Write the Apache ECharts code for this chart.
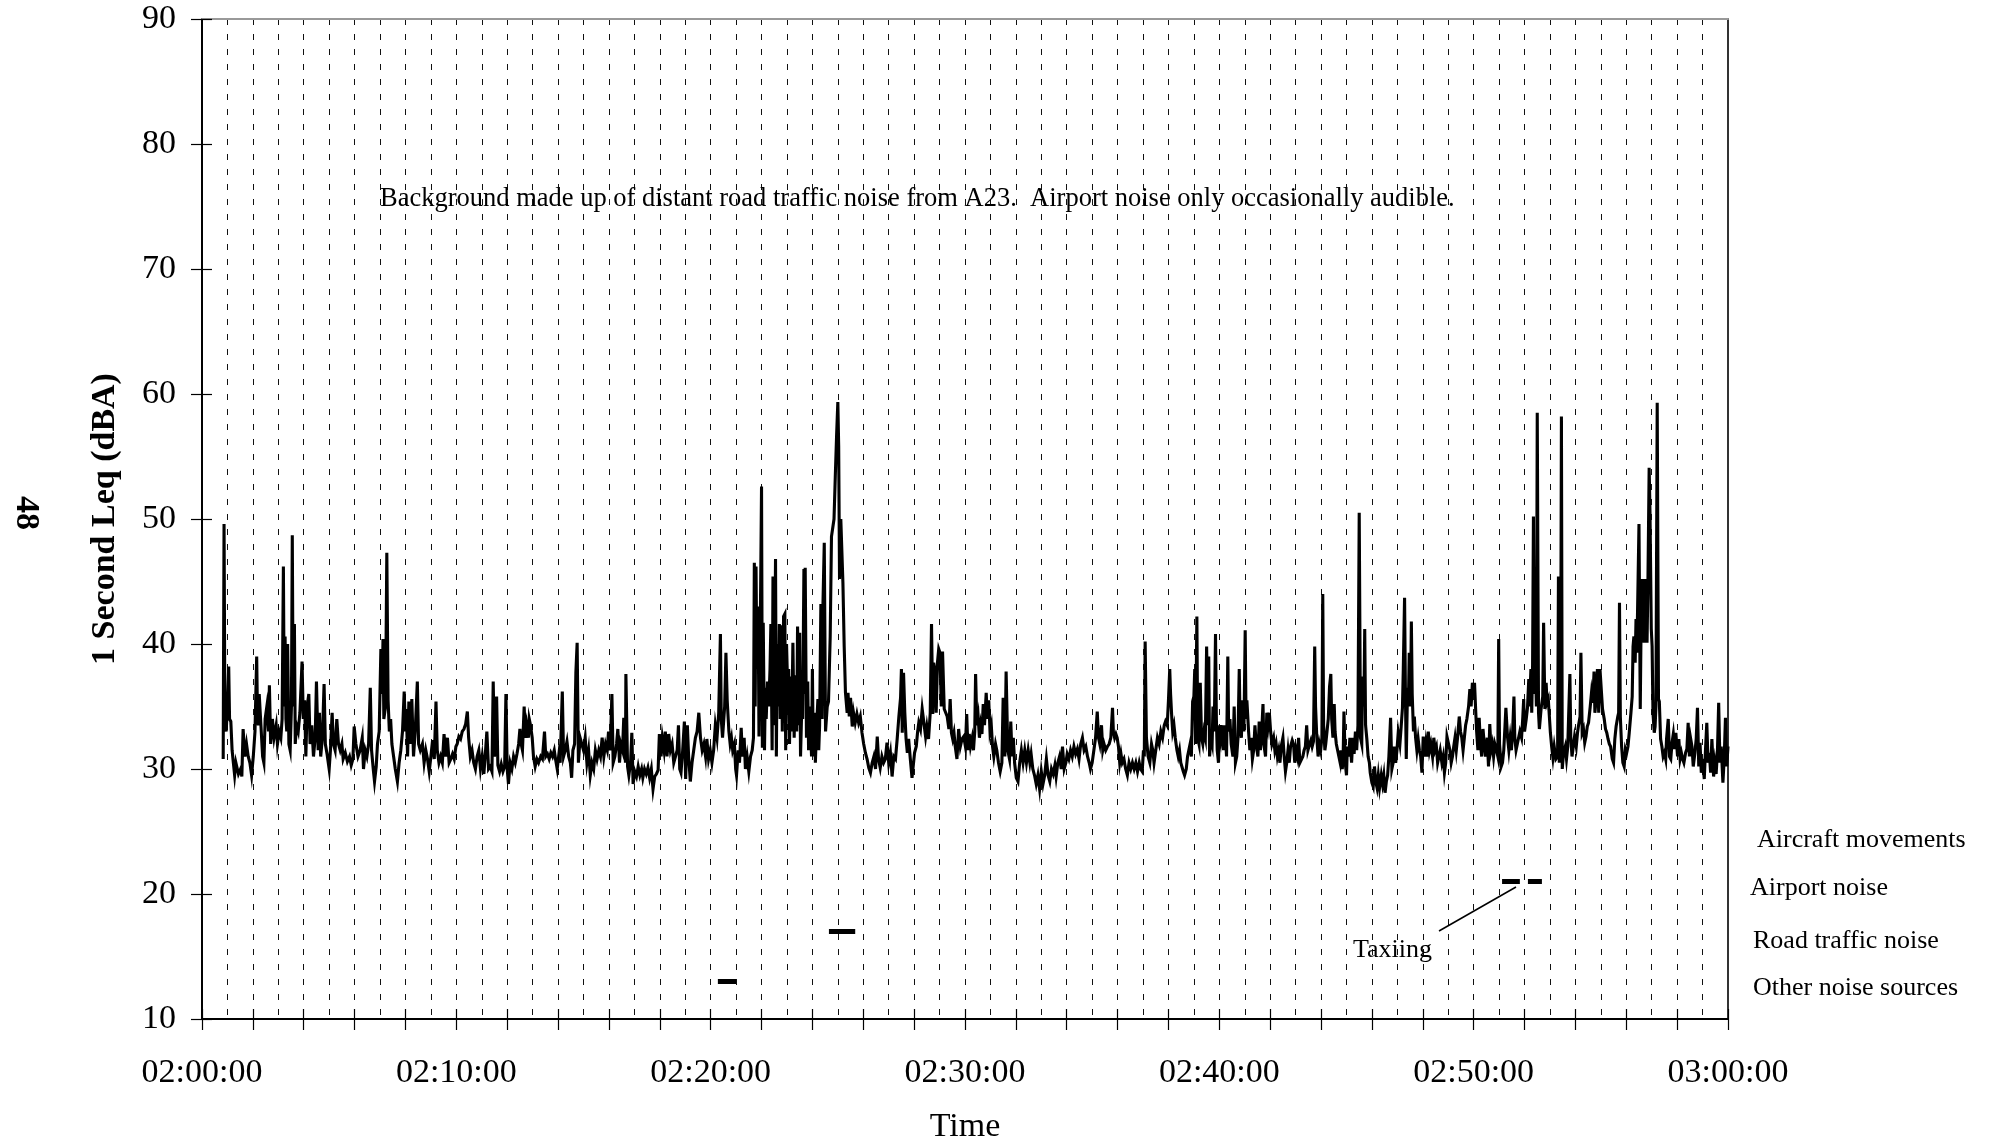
<!DOCTYPE html>
<html>
<head>
<meta charset="utf-8">
<script src="https://cdn.jsdelivr.net/npm/echarts@6/dist/echarts.min.js"></script>
<style>
html,body{margin:0;padding:0;background:#fff;}
#chart{width:1993px;height:1144px;}
</style>
</head>
<body>
<div id="chart"></div>
<script>
// ---- DATA (seconds after 02:00:00, 1 second Leq dBA) ----
const q1 = [[50,30.8],[52,49.6],[54,34],[57,33],[60,35],[63,38.2],[65,34],[68,33.8],[71,31.5],[74,30.5],[77,29.5],[80,30.5],[82,30.2],[86,29.6],[91,30],[94,29.4],[97,33.2],[101,31],[105,32],[109,31],[113,30.5],[117,29.5],[121,31],[125,33],[129,39],[131,34],[133,33.5],[135,36],[139,33.5],[143,31],[146,30.5],[149,34],[153,35],[157,33],[159,36.7],[162,32],[166,34],[170,32.5],[175,33.5],[178,32],[182,33],[186,32.5],[189,34],[192,46.2],[194,35],[196,40.6],[198,34],[200,33],[202,40],[205,32],[208,31.5],[211,35],[213,48.7],[215,35],[218,41.6],[220,32],[223,33.5],[227,33],[231,34.5],[236,38.6],[239,34],[242,35.5],[245,31],[248,35],[252,36],[255,32],[259,33.5],[263,31],[267,32.5],[270,37],[274,31.5],[277,34.5],[280,31],[284,32.5],[288,36.8],[291,32],[295,31.2],[300,30],[303,31.5],[307,34.5],[310,32],[314,31.5],[318,34],[322,32],[326,31.5],[330,32],[333,30.8],[338,31.3],[343,30.6],[348,31],[352,30.3],[356,30.8],[359,33.4],[363,32],[368,31],[373,31.5],[378,32.5],[381,30],[385,31.5],[389,31],[393,32],[397,36.5],[400,31.5],[404,30],[407,29],[411,30.2],[414,32],[418,33],[422,39.6],[425,36],[427,40.4],[429,34],[433,35],[436,47.3],[439,35.5],[442,33],[445,34],[448,32],[452,31],[456,30],[461,29],[465,30.5],[469,31.5],[473,33],[477,36.2],[480,33],[482,34.8],[485,31],[488,35.4],[492,32],[495,35.6],[499,31],[503,33],[508,37],[511,32],[515,31.5],[520,32],[524,30.5],[528,31.5],[532,30.8],[536,29.8],[540,31],[544,32.3],[548,30.8],[552,35.4],[555,31.5],[559,30.5],[563,31],[567,30.5],[571,32.8],[575,31],[579,32.5],[583,30.5],[587,30.8],[591,31.2],[595,30.8],[599,31.8],[602,32],[606,32.6],[610,32.4],[614,33],[618,33.2],[622,33.6],[626,34.6],[629,32.5],[633,31],[637,31.5],[641,30.5],[645,30],[649,31],[653,31.5],[657,30],[661,31],[665,29.6],[669,31.5],[672,33],[676,30],[680,30.2],[684,29.8],[687,37],[690,31],[694,32],[695,35.8],[698,30.3],[702,29.8],[706,30.4],[710,29.8],[714,30.2],[717,36],[720,30],[723,28.8],[727,30.5],[731,30],[735,31],[739,30.5],[743,31.2],[747,32],[750,33.2],[753,32],[756,31.5],[760,35],[763,32.5],[766,33.5],[770,32.5],[772,34],[775,33.5],[779,32.5],[782,31],[786,30.2],[790,30.8],[794,30.5],[799,31],[803,30.8],[808,33],[811,31],[815,31.2],[819,30.8],[823,31.3],[827,31],[831,31.5],[834,30.8],[838,30],[842,31.2],[845,30.5],[850,36.2],[853,31],[857,31.5],[861,32.2],[865,31],[869,30.5],[872,29.3],[875,31.5],[879,32],[882,37.7],[885,40.1],[888,30.5],[892,32.5],[896,32]];

const q2 = [[900,31.5],[904,32.5],[908,30.5],[912,31.5],[916,29.5],[920,30.5],[924,30],[928,31.5],[932,30.8],[936,31.5],[940,31],[944,32.5],[948,31],[952,32],[956,31.5],[959,33],[963,31.5],[967,36],[970,30.5],[974,31],[978,32],[981,33.2],[985,30.5],[988,32],[992,31.5],[995,34.1],[999,30.5],[1000,37.6],[1004,30.2],[1007,29.5],[1011,30.5],[1014,32.9],[1017,28.8],[1021,29.8],[1025,29.4],[1029,30.2],[1033,29.5],[1037,30],[1040,29.3],[1044,30],[1048,29.6],[1052,30.1],[1056,29.3],[1060,30],[1064,28.4],[1068,29.4],[1072,29.6],[1076,29.9],[1079,32.8],[1083,31],[1086,32.5],[1090,31.5],[1093,33],[1097,31],[1101,32.8],[1105,31.5],[1109,32],[1113,30.5],[1117,30.5],[1121,31.5],[1124,33.5],[1127,30],[1130,29.7],[1134,31.5],[1138,33.8],[1141,29.2],[1145,33.5],[1148,31],[1152,29],[1156,30.5],[1160,31.5],[1164,32.5],[1168,33],[1172,34.5],[1176,32.5],[1180,31.5],[1184,32],[1188,31],[1191,32.4],[1195,30.8],[1199,31.5],[1203,30.5],[1207,31.5],[1211,33.5],[1215,32.5],[1219,34.5],[1223,40.8],[1225,34],[1228,32.5],[1233,35],[1236,39.3],[1239,35.5],[1243,33],[1246,32],[1249,32.5],[1252,31.5],[1256,32],[1259,30],[1261,29.5],[1265,31.5],[1268,30.5],[1272,33.3],[1275,31],[1279,32.5],[1282,30],[1286,31],[1290,29.8],[1294,31],[1298,31.5],[1301,32.5],[1303,46.5],[1305,35],[1307,46.2],[1309,38],[1312,43],[1314,32.6],[1317,41],[1320,52.6],[1322,31.7],[1324,41.7],[1327,31.5],[1329,36.5],[1331,34],[1334,37],[1337,35],[1340,38],[1342,41.6],[1345,31.5],[1347,45.4],[1350,33.5],[1353,46.8],[1355,31],[1357,40],[1360,35],[1362,41.6],[1364,34],[1367,41.5],[1369,33],[1372,42.2],[1375,42.4],[1377,31.5],[1379,40],[1382,36],[1384,38],[1386,32],[1389,37.4],[1391,33],[1394,40.1],[1397,32.5],[1400,37.5],[1403,33],[1405,41.4],[1408,33.5],[1410,40.9],[1412,31],[1415,35],[1417,34],[1420,46],[1422,36],[1423,46.1],[1426,32.5],[1429,37],[1431,31.5],[1434,35],[1438,31],[1440,38],[1442,31],[1445,34.5],[1447,30.5],[1450,33.5],[1453,35.6],[1455,31.5],[1457,33.5],[1460,43.2],[1463,34],[1465,43.3],[1468,48.1],[1471,33],[1475,35],[1478,35.4],[1482,40.6],[1485,48.6],[1488,48.7],[1491,50],[1494,53.4],[1497,56.6],[1500,59.35],[1502,55.8],[1504,45.2],[1507,50],[1509,50.1],[1512,44.9],[1515,39.8],[1518,36.1],[1522,34.5],[1524,36.1],[1527,34.2],[1530,35.7],[1534,33.4],[1537,34.5],[1541,33.7],[1545,34.4],[1549,33.7],[1553,34.2],[1557,32.9],[1561,32],[1565,31.3],[1569,30.8],[1573,30.1],[1577,29.7],[1581,30.5],[1585,31],[1589,30],[1593,32.6],[1596,30.8],[1600,30.1],[1604,31],[1608,30.5],[1612,30.8],[1616,32.1],[1620,30.5],[1624,31.3],[1628,29.4],[1632,31],[1636,30.8],[1640,32.4],[1644,34.2],[1648,35.7],[1650,38],[1652,32.9],[1655,37.7],[1658,34.5],[1661,32.4],[1664,31.3],[1667,32.4],[1671,30.8],[1675,29.3],[1678,29.4],[1681,31.3],[1685,31.8],[1688,32.9],[1691,33.7],[1695,33.2],[1699,34.8],[1703,33.7],[1707,32.6],[1710,33.4],[1714,32.4],[1718,34.5],[1721,41.6],[1724,34.4],[1726,38.5],[1729,37.9],[1732,34.5],[1735,38.5],[1738,39.6],[1741,39.3],[1744,35],[1747,39.4],[1751,34.8],[1754,34.8],[1758,34.2],[1762,33.2],[1765,35.6],[1768,32.9],[1771,32.4],[1774,32.9],[1777,31.8],[1781,30.8],[1785,33.2],[1789,31.8],[1793,32.4],[1797,32.6]];

const q3 = [[1801,31.8],[1804,34.4],[1807,31.5],[1810,32.8],[1813,31.8],[1817,32.5],[1820,31.5],[1823,33],[1825,37.6],[1828,33.5],[1831,34.2],[1834,32.5],[1837,33.5],[1840,32.8],[1843,35.2],[1846,33.5],[1850,36.1],[1853,34],[1856,35.5],[1859,33],[1862,33.5],[1865,31.8],[1868,31],[1872,32],[1875,31.5],[1879,30.5],[1883,29.8],[1887,30.5],[1890,35.7],[1894,31],[1897,37.8],[1901,31.5],[1905,30.8],[1908,33.8],[1911,31],[1914,32.5],[1917,30.5],[1921,29.3],[1925,29],[1929,30.5],[1933,31.5],[1937,30.5],[1941,31.5],[1945,30.5],[1949,31.5],[1953,30.5],[1956,31.2],[1960,30],[1964,29.5],[1968,28.8],[1972,29.5],[1976,28.4],[1980,29.8],[1984,28.8],[1988,29.5],[1992,30.8],[1996,29.5],[2000,29],[2004,30],[2008,29.6],[2012,30.3],[2015,29.4],[2019,30.5],[2023,31],[2027,30],[2030,31.8],[2034,30],[2038,30.5],[2041,31.2],[2045,30.8],[2049,31.5],[2053,31],[2057,31.8],[2061,31.2],[2065,31.6],[2069,30.8],[2073,32],[2077,32.5],[2081,31.5],[2085,31.8],[2089,31],[2093,30.5],[2096,30],[2100,30.5],[2104,31.5],[2108,32.5],[2112,34.6],[2115,32.5],[2118,32],[2122,33.5],[2125,31.5],[2128,32],[2132,31.5],[2136,31.8],[2140,32],[2144,32.5],[2148,34.9],[2150,33],[2153,32.5],[2156,32.8],[2159,32.5],[2162,31.8],[2165,30.5],[2168,31.2],[2171,30.5],[2175,30.8],[2179,30],[2183,29.5],[2187,30.5],[2191,30],[2195,30.5],[2199,30],[2203,30.5],[2207,29.8],[2211,30.5],[2214,30],[2218,29.8],[2221,31.5],[2223,31],[2225,40.2],[2228,32.5],[2232,31],[2236,30.5],[2240,32],[2243,31.5],[2246,30.5],[2250,31.5],[2254,32.5],[2258,32],[2262,33],[2266,32.5],[2270,33.5],[2273,33.8],[2277,33.5],[2280,35.5],[2283,38],[2285,36],[2288,34],[2290,33],[2293,33.5],[2296,32.5],[2300,31.5],[2303,31],[2306,31.5],[2309,30.5],[2312,30.5],[2315,29.8],[2318,29.5],[2322,30],[2325,31],[2328,31.5],[2331,32],[2334,31],[2337,35.4],[2340,35.8],[2342,38],[2344,32],[2347,42.2],[2349,32.5],[2352,32],[2355,36.9],[2358,32.5],[2361,32],[2364,33],[2367,32.5],[2370,39.8],[2373,33.5],[2375,39],[2377,31],[2380,32.5],[2383,32],[2385,35],[2388,33],[2391,40.8],[2393,34],[2395,31.5],[2398,30.5],[2401,33.5],[2404,32.5],[2407,33.5],[2410,31.5],[2413,33.5],[2417,31],[2420,39],[2422,33],[2425,34],[2428,32],[2432,31],[2435,35],[2438,30.5],[2441,31],[2444,32.5],[2447,38],[2449,33.5],[2452,32.5],[2455,35.5],[2458,33],[2461,41.1],[2463,34],[2465,35.5],[2469,33],[2472,31.5],[2475,32.5],[2478,30.8],[2481,31.5],[2484,33.5],[2487,32],[2491,31],[2494,33.8],[2497,31.5],[2500,33],[2503,35.2],[2505,32],[2509,31],[2512,34.5],[2515,33.5],[2518,34.5],[2521,33],[2524,32],[2528,32.5],[2531,31.5],[2534,32],[2537,31],[2540,31.5],[2543,30.5],[2546,31.8],[2550,32.5],[2553,31],[2556,29.8],[2559,30.5],[2562,31.5],[2565,30.5],[2568,31.8],[2572,32.3],[2575,32],[2578,30.5],[2581,31.5],[2584,31],[2587,32.5],[2590,30.5],[2594,30.5],[2597,31],[2600,31.5],[2603,31.8],[2606,33.5],[2609,31.5],[2613,32],[2616,32.3],[2619,31.8],[2622,32.2],[2625,39.8],[2627,35],[2630,32.5],[2633,31],[2636,32],[2639,31.5],[2642,32.5],[2644,44],[2646,33.5],[2649,31.5],[2651,32],[2654,33],[2657,34],[2660,36.6],[2663,37.6],[2665,34],[2668,32.5],[2671,35.2],[2673,33],[2676,32],[2679,31.5],[2682,31],[2685,30.5],[2687,31.5],[2690,30],[2692,30.8],[2694,34.6],[2697,30.5]];

const q4 = [[2700,29.5],[2702,31.8],[2705,31],[2708,32.5],[2712,30.5],[2715,32.5],[2718,31.2],[2721,33],[2724,31.5],[2727,33.5],[2730,50.5],[2733,32.5],[2736,32],[2738,37.4],[2741,35],[2743,41.2],[2745,33.5],[2748,32.4],[2751,31],[2754,30.5],[2756,29.7],[2760,28.9],[2763,28.6],[2766,30.2],[2769,29],[2772,28.5],[2775,29.5],[2778,28.5],[2782,29.5],[2785,28.8],[2788,29.5],[2791,28.1],[2794,29],[2797,29.5],[2800,31],[2804,34.1],[2807,30],[2810,30.5],[2813,31.8],[2816,30.5],[2819,31.5],[2822,32.9],[2826,32],[2829,33.4],[2832,34.9],[2834,38],[2837,43.7],[2839,36],[2841,30.8],[2844,36.5],[2846,35],[2848,39.3],[2851,35],[2853,41.8],[2855,36],[2858,33],[2860,34.2],[2863,32.5],[2866,31.5],[2869,32.4],[2872,31.5],[2875,31],[2878,29.7],[2881,32.6],[2884,31],[2887,32],[2890,31],[2893,33],[2896,31.5],[2899,32],[2903,31],[2906,32.5],[2909,31.5],[2912,31.8],[2915,30.5],[2918,31],[2921,31.5],[2925,30.5],[2928,31],[2931,29.7],[2934,30.5],[2937,32.6],[2940,32.5],[2944,31.5],[2947,30.5],[2950,31],[2953,31.8],[2956,32.5],[2959,31.5],[2962,32.5],[2966,34.2],[2969,33],[2972,32.5],[2975,31.5],[2978,32.5],[2981,33.5],[2984,34],[2988,35],[2991,36.4],[2994,35],[2997,36.9],[3000,35.9],[3002,36.9],[3005,34.5],[3007,33],[3010,31.5],[3013,34.1],[3016,32],[3019,31],[3022,33.2],[3025,32],[3028,31],[3032,32.5],[3035,30.2],[3038,33.6],[3041,31.5],[3044,32],[3047,31],[3050,32],[3054,31.5],[3057,31],[3059,40.4],[3061,32],[3065,30.2],[3068,30.5],[3071,31.5],[3074,33.5],[3076,34.9],[3080,32.5],[3083,31.5],[3086,32.5],[3089,31.5],[3092,33],[3095,35.8],[3097,32.5],[3100,31.5],[3103,32],[3106,32.5],[3109,33],[3113,32.5],[3116,34.2],[3118,35.6],[3120,33],[3124,34],[3127,34.9],[3130,37.2],[3132,35],[3135,38],[3137,34.5],[3139,38.2],[3141,50.2],[3143,36],[3146,38],[3148,35],[3150,58.5],[3153,34.5],[3155,33.2],[3159,34.8],[3163,35.8],[3165,41.7],[3168,34.8],[3171,36.9],[3173,35.3],[3176,35.6],[3179,35.6],[3181,32.9],[3184,31.8],[3187,30.9],[3190,31.8],[3194,30.8],[3198,31],[3200,45.4],[3202,30.5],[3205,32.9],[3207,58.2],[3209,30],[3212,31.3],[3216,31.8],[3219,30.8],[3222,31.8],[3224,34.2],[3227,37.6],[3229,32.6],[3232,31],[3235,31.8],[3238,32.6],[3242,31.8],[3245,32.9],[3247,33.4],[3251,34.2],[3253,39.3],[3256,32.9],[3259,33.2],[3262,32.1],[3265,32.6],[3268,33.4],[3271,33.7],[3275,35],[3278,36.1],[3281,35.3],[3284,37.8],[3286,34.5],[3289,35.6],[3292,38],[3295,34.5],[3298,38],[3301,38.1],[3304,34.8],[3308,34],[3311,33.2],[3314,32.9],[3317,32.4],[3320,32],[3323,31.8],[3327,30.8],[3330,30.5],[3333,32.4],[3336,33.4],[3340,34.2],[3342,34.5],[3344,43.3],[3346,34.2],[3349,31.8],[3352,30.5],[3355,30.2],[3358,31.6],[3361,31.3],[3364,31.8],[3367,32.9],[3371,34.5],[3374,35.8],[3376,39.8],[3378,40.6],[3381,38.5],[3383,42],[3385,39.3],[3388,45.4],[3390,49.6],[3393,34.8],[3395,41.7],[3397,45.2],[3400,45.3],[3402,40.1],[3404,45.2],[3407,44.6],[3409,40.1],[3411,44.6],[3414,54.1],[3416,50.5],[3419,41.2],[3421,39.8],[3423,34.5],[3426,32.9],[3428,33.4],[3430,35],[3433,59.3],[3436,35.6],[3438,35.4],[3441,32.4],[3444,31.8],[3447,31],[3450,31.3],[3453,30.8],[3455,32.4],[3459,34],[3462,31],[3465,30.8],[3468,32.1],[3471,32.8],[3474,31.6],[3477,32.9],[3481,31],[3484,32.4],[3487,30.8],[3490,31.3],[3493,30.8],[3496,30.5],[3500,31.3],[3503,31.6],[3506,33.7],[3509,31],[3512,32.4],[3515,31.8],[3518,30.2],[3522,31.3],[3525,32.4],[3528,34.9],[3531,30.2],[3534,32.1],[3537,29.7],[3540,30.8],[3544,29.2],[3547,31.6],[3550,33.7],[3553,30.5],[3556,31.3],[3559,29.7],[3562,32.4],[3566,29.4],[3569,30.5],[3572,29.6],[3575,31.3],[3578,35.3],[3581,30.5],[3584,31.8],[3588,28.9],[3591,30.8],[3594,34.1],[3597,30.2],[3600,31.8]];

// event bars: [start sec, end sec] at the level of each source row
const sourceRows = ['Aircraft movements','Airport noise','Road traffic noise','Other noise sources'];
const sourceLevels = [25, 21, 17, 13];
const aircraftEvents = [];
const airportEvents = [[3067,3109],[3128,3161]];
const roadEvents = [[1479,1541]];
const otherEvents = [[1217,1260]];

const timeLabels = ['02:00:00','02:10:00','02:20:00','02:30:00','02:40:00','02:50:00','03:00:00'];
const yTicks = [10,20,30,40,50,60,70,80,90];
const noteText = 'Background made up of distant road traffic noise from A23.  Airport noise only occasionally audible.';
const taxiText = 'Taxiing';

// ---- CHART ----
const FONT = '"Liberation Serif", "Times New Roman", serif';
const chart = echarts.init(document.getElementById('chart'), null, {renderer:'canvas'});
const G = {left:202, right:265, top:19, bottom:125, containLabel:false, outerBoundsMode:'none'};
const dash = {color:'#111', width:1, type:[6,9]};

const eventSeries = [];
[aircraftEvents, airportEvents, roadEvents, otherEvents].forEach((evs, i) => {
  evs.forEach(ev => {
    eventSeries.push({
      type:'line', xAxisIndex:0, yAxisIndex:0, silent:true,
      data:[[ev[0], sourceLevels[i]], [ev[1], sourceLevels[i]]],
      showSymbol:false, symbol:'none',
      lineStyle:{color:'#000', width:5, cap:'butt'}, z:4
    });
  });
});

const option = {
  animation:false,
  backgroundColor:'#fff',
  textStyle:{fontFamily:FONT},
  grid:[ Object.assign({}, G), Object.assign({}, G) ],
  xAxis:[
    {
      gridIndex:0, type:'value', min:0, max:3600, interval:120, position:'bottom',
      axisLine:{show:true, onZero:false, lineStyle:{color:'#000', width:2}},
      axisTick:{show:true, inside:false, length:11, lineStyle:{color:'#000', width:1.2}},
      axisLabel:{show:true, margin:37, color:'#000', fontSize:34, fontFamily:FONT,
        formatter:(v)=> (v % 600 === 0 ? timeLabels[v/600] : '')},
      splitLine:{show:true, showMinLine:false, showMaxLine:false, lineStyle:dash},
      minorTick:{show:false, splitNumber:2},
      minorSplitLine:{show:true, lineStyle:dash},
      name:'Time', nameLocation:'middle', nameGap:91,
      nameTextStyle:{color:'#000', fontSize:34, fontFamily:FONT}
    },
    {
      gridIndex:1, type:'value', min:0, max:3600, interval:120, position:'bottom',
      axisLine:{show:false},
      axisTick:{show:true, inside:true, length:10, lineStyle:{color:'#000', width:1.2}},
      axisLabel:{show:false}, splitLine:{show:false}
    },
    {
      gridIndex:1, type:'value', min:0, max:3600, position:'top',
      axisLine:{show:true, onZero:false, lineStyle:{color:'#999', width:2}},
      axisTick:{show:false}, axisLabel:{show:false}, splitLine:{show:false}
    }
  ],
  yAxis:[
    {
      gridIndex:0, type:'value', min:yTicks[0], max:yTicks[yTicks.length-1], interval:10, position:'left',
      axisLine:{show:true, onZero:false, lineStyle:{color:'#000', width:2}},
      axisTick:{show:true, inside:false, length:11, lineStyle:{color:'#000', width:1.2}},
      axisLabel:{show:true, margin:26, color:'#000', fontSize:34, fontFamily:FONT},
      splitLine:{show:false},
      name:'1 Second Leq (dBA)', nameLocation:'middle', nameGap:80, nameRotate:90,
      nameTextStyle:{color:'#000', fontSize:34, fontWeight:'bold', fontFamily:FONT}
    },
    {
      gridIndex:1, type:'value', min:10, max:90, interval:10, position:'left',
      axisLine:{show:false},
      axisTick:{show:true, inside:true, length:10, lineStyle:{color:'#000', width:1.2}},
      axisLabel:{show:false}, splitLine:{show:false}
    },
    {
      gridIndex:1, type:'value', min:10, max:90, position:'right',
      axisLine:{show:true, onZero:false, lineStyle:{color:'#333', width:2}},
      axisTick:{show:false}, axisLabel:{show:false}, splitLine:{show:false}
    }
  ],
  series:[
    {
      type:'line', xAxisIndex:0, yAxisIndex:0, silent:true,
      data:[].concat(q1, q2, q3, q4),
      showSymbol:false, symbol:'none',
      lineStyle:{color:'#000', width:3.1, join:'miter'},
      z:5
    }
  ].concat(eventSeries),
  graphic:[
    {type:'text', x:380, y:199, z:10, silent:true,
      style:{text:noteText, font:'26.5px ' + FONT, fill:'#000', textAlign:'left', textVerticalAlign:'middle'}},
    {type:'text', x:1353, y:950, z:10, silent:true,
      style:{text:taxiText, font:'26px ' + FONT, fill:'#000', textAlign:'left', textVerticalAlign:'middle'}},
    {type:'line', z:10, silent:true,
      shape:{x1:1439, y1:931, x2:1516, y2:887}, style:{stroke:'#000', lineWidth:1.5}},
    {type:'text', x:1757, y:840, z:10, silent:true,
      style:{text:sourceRows[0], font:'26px ' + FONT, fill:'#000', textAlign:'left', textVerticalAlign:'middle'}},
    {type:'text', x:1750, y:888, z:10, silent:true,
      style:{text:sourceRows[1], font:'26px ' + FONT, fill:'#000', textAlign:'left', textVerticalAlign:'middle'}},
    {type:'text', x:1753, y:941, z:10, silent:true,
      style:{text:sourceRows[2], font:'26px ' + FONT, fill:'#000', textAlign:'left', textVerticalAlign:'middle'}},
    {type:'text', x:1753, y:988, z:10, silent:true,
      style:{text:sourceRows[3], font:'26px ' + FONT, fill:'#000', textAlign:'left', textVerticalAlign:'middle'}},
    {type:'text', x:26, y:513, rotation:-Math.PI/2, z:10, silent:true,
      style:{text:'48', font:'bold 34px ' + FONT, fill:'#000', textAlign:'center', textVerticalAlign:'middle'}}
  ]
};
chart.setOption(option);
</script>
</body>
</html>
